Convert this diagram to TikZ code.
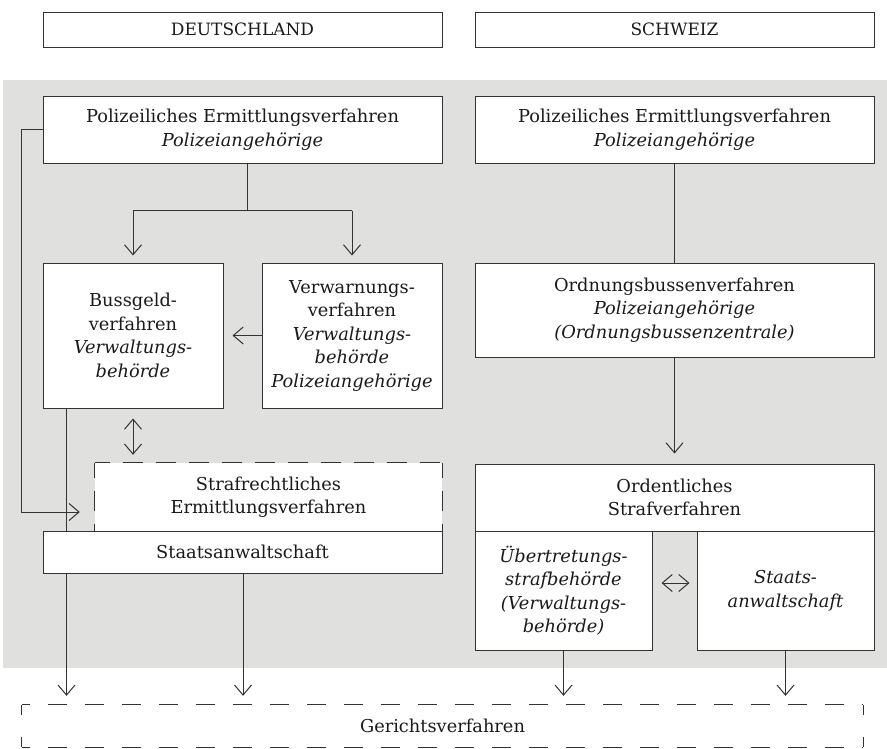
\documentclass[tikz,border=0pt]{standalone}
\usepackage{fontspec}
\setmainfont{DejaVu Serif}
\usetikzlibrary{arrows.meta,calc}
\definecolor{bggray}{HTML}{E0E0DF}
\definecolor{ln}{HTML}{333333}
\definecolor{tx}{HTML}{1A1A1A}
\tikzset{
  every node/.style={text=tx, font=\fontsize{17.8}{23.5}\selectfont},
  box/.style={draw=ln, fill=white, line width=1pt, align=center, inner sep=0pt},
  hbox/.style={box, font=\fontsize{17}{20}\selectfont},
  conn/.style={draw=ln, line width=1pt},
  dline/.style={draw=ln, line width=1pt, dash pattern=on 20pt off 13pt, dash phase=5pt},
  gline/.style={draw=ln, line width=1pt, dash pattern=on 19pt off 18pt, dash phase=11pt},
  arr/.style={conn, -{Straight Barb[length=10pt,width=17pt,line width=1pt]}},
  darr/.style={conn, {Straight Barb[length=10pt,width=17pt,line width=1pt]}-{Straight Barb[length=10pt,width=17pt,line width=1pt]}},
}
\begin{document}
\begin{tikzpicture}[x=1pt,y=-1pt]
\useasboundingbox (0,0) rectangle (887,748);
\fill[bggray] (3,80) rectangle (887,668);

% headers
\node[hbox, minimum width=399pt, minimum height=35pt] (hD) at (242.5,29.5) {DEUTSCHLAND};
\node[hbox, minimum width=399pt, minimum height=35pt] (hS) at (674.5,29.5) {SCHWEIZ};

% Germany
\node[box, minimum width=399pt, minimum height=67pt] (dtop) at (242.5,129.5)
  {Polizeiliches Ermittlungsverfahren\\\textit{Polizeiangehörige}};
\node[box, minimum width=180pt, minimum height=145pt] (buss) at (133,335.5)
  {Bussgeld-\\verfahren\\\textit{Verwaltungs-}\\\textit{behörde}};
\node[box, minimum width=180pt, minimum height=145pt] (verw) at (352,335.5)
  {Verwarnungs-\\verfahren\\\textit{Verwaltungs-}\\\textit{behörde}\\\textit{Polizeiangehörige}};

\coordinate (jn) at ($(dtop.south)+(4.5,47)$);
\coordinate (jl) at (buss.north |- jn);
\coordinate (jr) at (verw.north |- jn);
\draw[conn] ($(dtop.south)+(4.5,0)$) -- (jn);
\draw[conn] (jl) -- (jr);
\draw[arr, shorten >=7pt] (jl) -- (buss.north);
\draw[arr, shorten >=7pt] (jr) -- (verw.north);
\draw[arr, shorten >=9pt] (verw.west) -- (buss.east);

\coordinate (bl) at ($(buss.south west)+(24,0)$);
\coordinate (lcorner) at (21,129.5);
\coordinate (lbot) at (21,512);

\node[fill=white, minimum width=347pt, minimum height=68pt, inner sep=0pt, align=center] (straf) at (268.5,497)
  {Strafrechtliches\\Ermittlungsverfahren};
\draw[dline] (straf.north west) -- (straf.north east);
\draw[dline] (straf.north west) -- (straf.south west);
\draw[dline] (straf.north east) -- (straf.south east);
\node[box, minimum width=399pt, minimum height=42pt] (stan) at (242.5,552) {Staatsanwaltschaft};

% Gericht
\node[minimum width=841pt, minimum height=42pt, inner sep=0pt] (ger) at (442.5,726) {Gerichtsverfahren};
\draw[gline] (ger.north west) -- (ger.north east);
\draw[gline] (ger.south west) -- (ger.south east);
\draw[draw=ln, line width=1pt, dash pattern=on 10pt off 22pt] (ger.north west) -- (ger.south west);
\draw[draw=ln, line width=1pt, dash pattern=on 10pt off 22pt] (ger.north east) -- (ger.south east);

% Switzerland
\node[box, minimum width=399pt, minimum height=67pt] (stop) at (674.5,129.5)
  {Polizeiliches Ermittlungsverfahren\\\textit{Polizeiangehörige}};
\node[box, minimum width=399pt, minimum height=94pt] (ordb) at (674.5,310)
  {Ordnungsbussenverfahren\\\textit{Polizeiangehörige}\\\textit{(Ordnungsbussenzentrale)}};
\node[box, minimum width=399pt, minimum height=67pt] (orst) at (674.5,497.5)
  {Ordentliches\\Strafverfahren};
\node[box, minimum width=177pt, minimum height=119pt] (uebs) at (563.5,590.5)
  {\textit{Übertretungs-}\\\textit{strafbehörde}\\\textit{(Verwaltungs-}\\\textit{behörde)}};
\node[box, minimum width=177pt, minimum height=119pt] (stch) at (785.5,590.5)
  {\textit{Staats-}\\\textit{anwaltschaft}};

\draw[conn] (stop.south) -- (ordb.north);
\draw[arr, shorten >=10pt] (ordb.south) -- (orst.north);
\draw[darr, shorten <=9pt, shorten >=7pt] ($(uebs.east)+(0,-7.5)$) -- ($(stch.west)+(0,-7.5)$);
\draw[arr, shorten >=9pt] (uebs.south) -- (uebs.south |- ger.north);
\draw[arr, shorten >=9pt] (stch.south) -- (stch.south |- ger.north);

% Germany remaining connectors
\draw[arr, shorten >=15pt] (dtop.west) -- (lcorner) -- (lbot) -- (lbot -| straf.west);
\draw[darr, shorten <=10pt, shorten >=8pt] (buss.south) -- (buss.south |- straf.north);
\draw[arr, shorten >=9pt] (stan.south) ++(0.5,0) -- ($(stan.south |- ger.north)+(0.5,0)$);
\draw[conn] (bl) -- (bl |- stan.north);
\draw[arr, shorten >=9pt] (bl |- stan.south) -- (bl |- ger.north);
\end{tikzpicture}
\end{document}
